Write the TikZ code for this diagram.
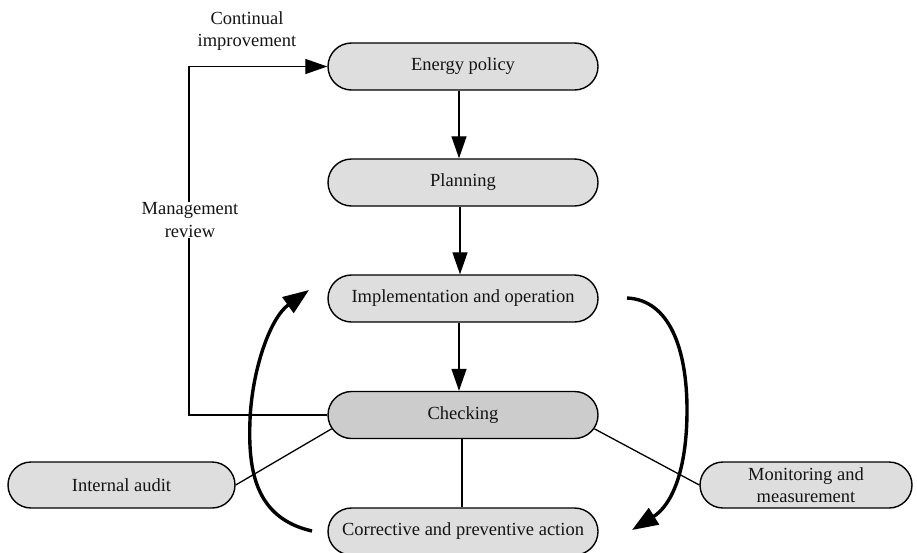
\documentclass[tikz,border=0pt]{standalone}
\usepackage{fontspec}
\setmainfont{Liberation Serif}
\usetikzlibrary{shapes.misc,arrows.meta}
\definecolor{boxfill}{RGB}{222,222,222}
\definecolor{chkfill}{RGB}{204,204,204}
\definecolor{txt}{RGB}{20,20,20}
\begin{document}
\begin{tikzpicture}[x=1pt,y=-1pt,
  stage/.style={rounded rectangle, draw, line width=1.4pt, fill=boxfill,
    minimum width=270pt, minimum height=47pt, inner sep=0pt,
    font=\fontsize{18.5}{22.5}\selectfont, text=txt, align=center},
  sidebox/.style={stage, minimum height=46pt},
  lbl/.style={font=\fontsize{18.5}{22.5}\selectfont, text=txt, align=center, inner sep=1pt},
  conn/.style={line width=1.3pt},
  arr/.style={line width=1.3pt, -{Triangle[length=22pt,width=15pt]}},
  bigarr/.style={line width=3.4pt, -{Triangle[length=26pt,width=19pt]}}]
\useasboundingbox (0,0) rectangle (917,552);

\node[stage] (ep) at (463,66.5) {Energy policy};
\node[stage] (pl) at (463,182.5) {Planning};
\node[stage] (io) at (463,298.5) {Implementation and operation};
\node[stage, fill=chkfill] (chk) at (463,415) {Checking};
\node[stage] (ca) at (463,531.5) {Corrective and preventive action};
\node[sidebox, minimum width=227pt] (ia) at (121.5,485) {Internal audit};
\node[sidebox, minimum width=212pt] (mm) at (806,485) {Monitoring and\\measurement};

\draw[arr] ([xshift=-4pt]ep.south) -- ([xshift=-4pt]pl.north);
\draw[arr] ([xshift=-3pt]pl.south) -- ([xshift=-3pt]io.north);
\draw[arr] ([xshift=-4pt]io.south) -- ([xshift=-4pt]chk.north);
\draw[conn] ([xshift=-1pt]chk.south) -- ([xshift=-1pt]ca.north);
\draw[conn] (chk.186.6) -- (ia.east);
\draw[conn] (chk.354) -- (mm.west);

\coordinate (mrx) at (189,0);
\draw[arr] (chk.west) -- (chk.west -| mrx) |- (ep.west);
\node[lbl, fill=white] (mr) at (190,220) {Management\\review};
\node[lbl] (ci) at (247,31) {Continual\\improvement};

\coordinate (l0) at (312,531);
\coordinate (l1) at (250,420);
\coordinate (l2) at (309,290);
\draw[bigarr] (l0) .. controls (255,518) and (248,470) .. (l1)
  .. controls (252,370) and (270,318) .. (l2);

\coordinate (r0) at (627,298);
\coordinate (r1) at (687,410);
\coordinate (r2) at (632,530);
\draw[bigarr] (r0) .. controls (670,300) and (687,350) .. (r1)
  .. controls (687,470) and (672,505) .. (r2);
\end{tikzpicture}
\end{document}
